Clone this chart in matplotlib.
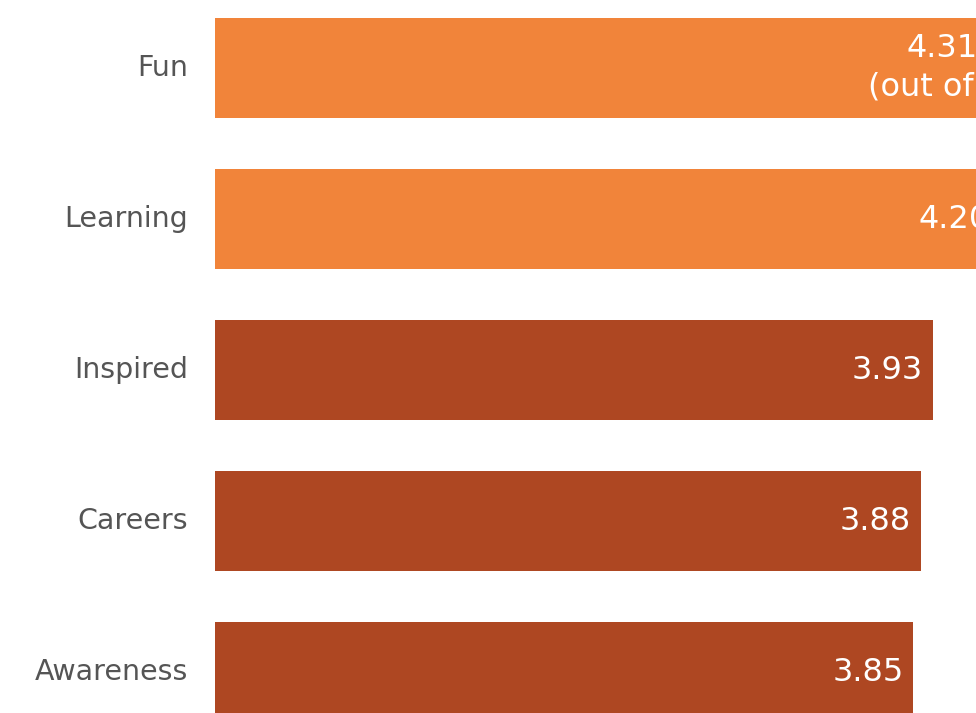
import matplotlib.pyplot as plt

categories = ['Fun', 'Learning', 'Inspired', 'Careers', 'Awareness']
scores = [4.31, 4.20, 3.93, 3.88, 3.85]
value_labels = ['4.31\n(out of 5)', '4.20', '3.93', '3.88', '3.85']
colors = ['#F1843A', '#F1843A', '#AE4722', '#AE4722', '#AE4722']

scale_min = 1  # the rating scale runs 1 to 5

fig = plt.figure(figsize=(9.76, 7.13), dpi=100)
ax = fig.add_axes([215 / 976, 0, 1 - 215 / 976, 1])

y = list(range(len(categories)))
ax.barh(y, [s - scale_min for s in scores], left=scale_min, height=0.66,
        color=colors)

for yi, s, lab in zip(y, scores, value_labels):
    ax.annotate(lab, (s, yi), xytext=(-7, 0), textcoords='offset points',
                ha='right', va='center', multialignment='center',
                color='white', fontsize=23, linespacing=1.3,
                annotation_clip=False)

for yi, cat in zip(y, categories):
    ax.text(-0.035, yi, cat, transform=ax.get_yaxis_transform(),
            ha='right', va='center', color='#555555', fontsize=20.5)

ax.set_xlim(scale_min, scale_min + 761 / 245)
ax.set_ylim(4.27, -0.45)
ax.axis('off')

fig.savefig('out.png', dpi=100)
